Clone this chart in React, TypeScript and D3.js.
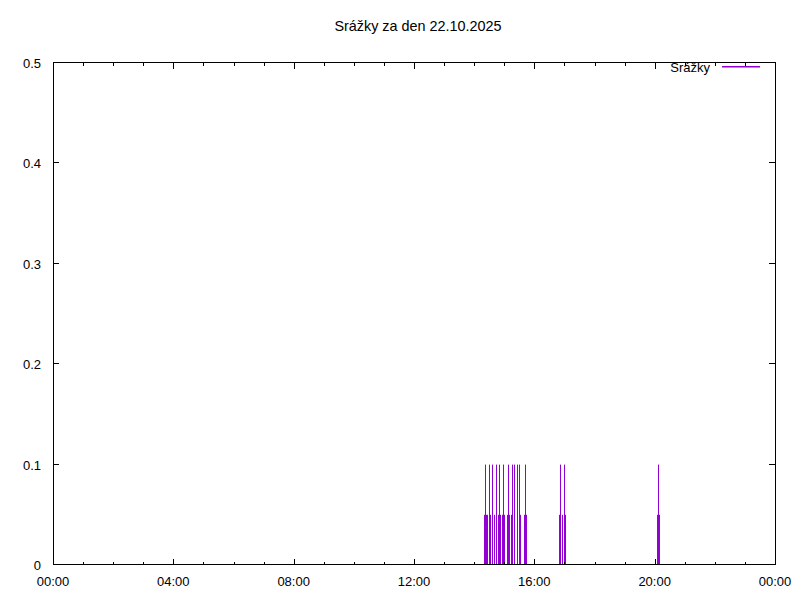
import React from "react";
import * as d3 from "d3";

// measurement times and rain amounts (mm)
const rainTimes = [
  "14:20", "14:22", "14:23", "14:26", "14:29", "14:32", "14:36", "14:40", "14:43",
  "14:48", "14:50", "14:52", "14:56", "14:58", "15:00", "15:06", "15:08", "15:10",
  "15:14", "15:16", "15:20", "15:25", "15:29", "15:31", "15:39", "15:41", "15:43",
  "16:49", "16:52", "16:55", "16:59", "17:01",
  "20:05", "20:07", "20:09",
];
const rainValues = [
  0.05, 0.1, 0.05, 0.05, 0.1, 0.05, 0.1, 0.05, 0.1,
  0.05, 0.1, 0.05, 0.05, 0.1, 0.05, 0.05, 0.1, 0.05,
  0.05, 0.1, 0.1, 0.1, 0.1, 0.05, 0.05, 0.1, 0.05,
  0.05, 0.1, 0.05, 0.1, 0.05,
  0.05, 0.1, 0.05,
];
const yTicks = [0, 0.1, 0.2, 0.3, 0.4, 0.5];

const title = "Srážky za den 22.10.2025";
const seriesName = "Srážky";
const color = "#9400d3";
const font = "'Liberation Sans', Arial, sans-serif";

const day0 = new Date(2025, 9, 22, 0, 0);
const day1 = new Date(2025, 9, 23, 0, 0);

const toDate = (s: string) => {
  const [h, m] = s.split(":").map(Number);
  return new Date(2025, 9, 22, h, m);
};

export default function App() {
  const width = 800;
  const height = 600;
  const left = 53, right = 775, top = 63, bottom = 565;

  const x = d3.scaleTime().domain([day0, day1]).range([left, right]);
  const y = d3.scaleLinear().domain([0, 0.5]).range([bottom, top]);

  const majorX = x.ticks(d3.timeHour.every(4)!);
  const minorX = x.ticks(d3.timeHour.every(1)!).filter((d) => d.getHours() % 4 !== 0);
  const fmt = d3.timeFormat("%H:%M");

  const px = (v: number) => Math.round(v) + 0.5;

  return (
    <svg
      width={width}
      height={height}
      style={{ position: "absolute", left: 0, top: 0, background: "#fff" }}
      fontFamily={font}
      fontSize={13}
    >
      <rect x={0} y={0} width={width} height={height} fill="#fff" />
      <text x={418} y={31} textAnchor="middle" fill="#000" fontSize={14.4}>
        {title}
      </text>

      {/* impulses */}
      {rainTimes.map((t, i) => (
        <line
          key={`imp/${i}`}
          x1={px(x(toDate(t)))}
          x2={px(x(toDate(t)))}
          y1={y(0)}
          y2={y(rainValues[i])}
          stroke={color}
          strokeWidth={1}
        />
      ))}

      {/* y ticks */}
      {yTicks.map((v) => (
        <g key={`y/${v}`}>
          <line x1={left} x2={left + 6} y1={px(y(v)) - 1} y2={px(y(v)) - 1} stroke="#000" />
          <line x1={right - 6} x2={right} y1={px(y(v)) - 1} y2={px(y(v)) - 1} stroke="#000" />
          <text x={left - 12} y={y(v) + 5} textAnchor="end" fill="#000">
            {v === 0 ? "0" : v.toFixed(1)}
          </text>
        </g>
      ))}

      {/* x ticks */}
      {majorX.map((d, i) => (
        <g key={`x/${i}`}>
          <line x1={px(x(d))} x2={px(x(d))} y1={bottom} y2={bottom - 6} stroke="#000" />
          <line x1={px(x(d))} x2={px(x(d))} y1={top} y2={top + 6} stroke="#000" />
          <text x={x(d)} y={bottom + 21} textAnchor="middle" fill="#000">
            {fmt(d)}
          </text>
        </g>
      ))}
      {minorX.map((d, i) => (
        <g key={`xm/${i}`}>
          <line x1={px(x(d))} x2={px(x(d))} y1={bottom} y2={bottom - 3} stroke="#000" />
          <line x1={px(x(d))} x2={px(x(d))} y1={top} y2={top + 3} stroke="#000" />
        </g>
      ))}

      {/* border */}
      <rect
        x={left + 0.5}
        y={top - 0.5}
        width={right - left}
        height={bottom - top}
        fill="none"
        stroke="#000"
        strokeWidth={1}
      />

      {/* legend */}
      <text x={710} y={72} textAnchor="end" fill="#000">
        {seriesName}
      </text>
      <rect x={722} y={66} width={38} height={1.5} fill={color} />
    </svg>
  );
}
